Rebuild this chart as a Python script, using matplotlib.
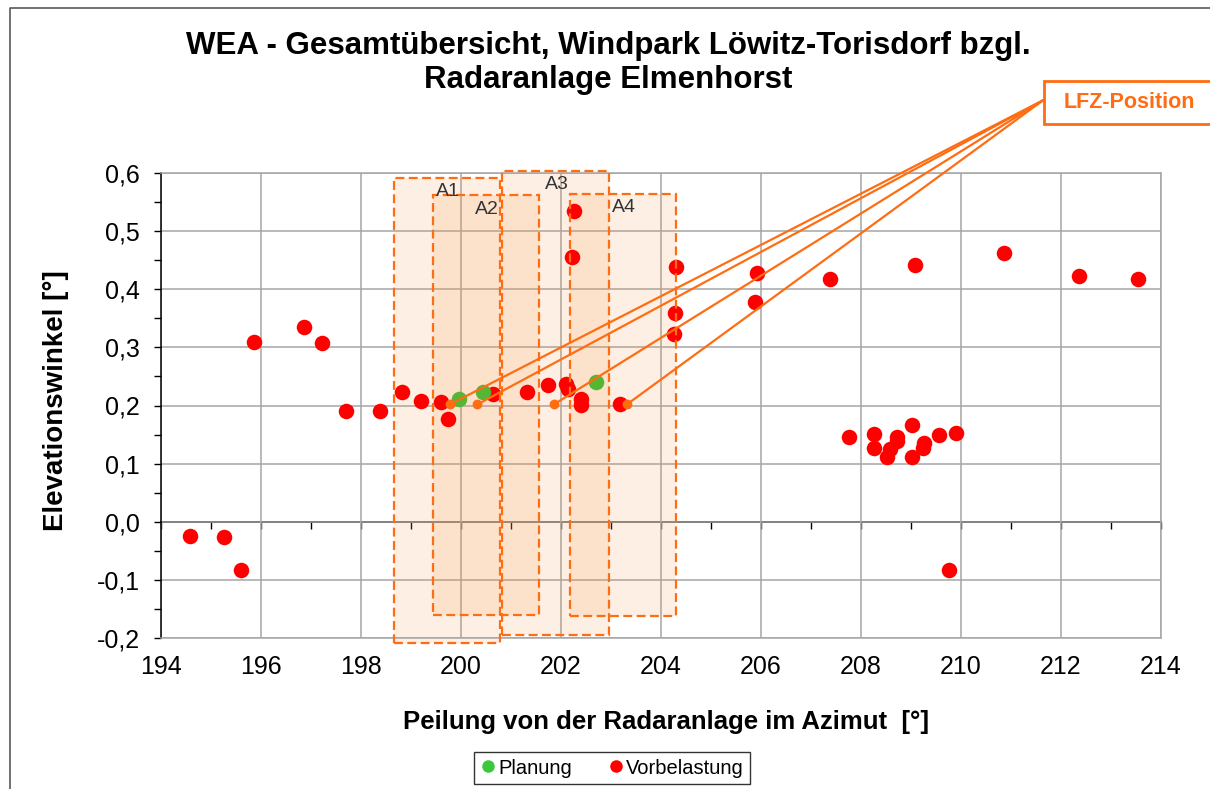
import matplotlib
matplotlib.use("Agg")
import matplotlib.pyplot as plt
from matplotlib.lines import Line2D
from matplotlib.patches import Rectangle
from matplotlib.ticker import FuncFormatter, MultipleLocator

plt.rcParams["font.family"] = ["Liberation Sans", "DejaVu Sans"]

TITLE = "WEA - Gesamtübersicht, Windpark Löwitz-Torisdorf bzgl.\nRadaranlage Elmenhorst"
X_LABEL = "Peilung von der Radaranlage im Azimut  [°]"
Y_LABEL = "Elevationswinkel [°]"

# existing turbines (Vorbelastung)
VOR_AZ = [194.59, 195.26, 195.61, 195.86, 196.87, 197.23, 197.70, 198.39,
          198.83, 199.21, 199.60, 199.74, 200.65, 201.33, 201.75, 202.10,
          202.15, 202.40, 202.40, 202.27, 202.23, 203.19, 204.30, 204.29,
          204.27, 205.92, 205.89, 207.39, 209.08, 210.87, 212.37, 213.55,
          207.76, 208.26, 208.26, 208.73, 208.73, 208.58, 208.53, 209.03,
          209.03, 209.27, 209.25, 209.57, 209.90, 209.77]
VOR_EL = [-0.025, -0.027, -0.083, 0.309, 0.335, 0.307, 0.191, 0.191,
          0.224, 0.208, 0.206, 0.177, 0.220, 0.224, 0.236, 0.237,
          0.228, 0.211, 0.201, 0.534, 0.456, 0.202, 0.439, 0.359,
          0.323, 0.428, 0.378, 0.418, 0.442, 0.463, 0.422, 0.418,
          0.146, 0.151, 0.127, 0.146, 0.139, 0.125, 0.112, 0.167,
          0.112, 0.136, 0.127, 0.149, 0.153, -0.083]

# planned turbines (Planung)
PLAN_AZ = [199.96, 200.45, 202.70]
PLAN_EL = [0.212, 0.224, 0.241]

# LFZ positions
LFZ_AZ = [199.78, 200.33, 201.86, 203.32]
LFZ_EL = [0.202, 0.202, 0.202, 0.202]
LFZ_LABEL_POS = (211.64, 0.725)

# areas A1..A4: (left, right), (bottom, top)
AREA_NAMES = ["A1", "A2", "A3", "A4"]
AREA_X = [(198.67, 200.78), (199.45, 201.57), (200.83, 202.97), (202.19, 204.31)]
AREA_Y = [(-0.208, 0.592), (-0.160, 0.562), (-0.194, 0.604), (-0.162, 0.564)]
AREA_LABEL_X = [199.74, 200.52, 201.92, 203.26]
AREA_LABEL_Y = [0.568, 0.537, 0.580, 0.540]

ORANGE = "#FF6D12"
RED = "#FF0000"
GREEN = "#55B535"


def comma_fmt(v, pos):
    return f"{v:.1f}".replace(".", ",")


fig = plt.figure(figsize=(12.1, 7.89), dpi=100)
ax = fig.add_axes([161 / 1210, 1 - 638 / 789, 1000 / 1210, 465 / 789])

ax.set_xlim(194, 214)
ax.set_ylim(-0.2, 0.6)
ax.xaxis.set_major_locator(MultipleLocator(2))
ax.yaxis.set_major_locator(MultipleLocator(0.1))
ax.yaxis.set_minor_locator(MultipleLocator(0.05))
ax.yaxis.set_major_formatter(FuncFormatter(comma_fmt))
ax.grid(True, color="#A6A6A6", linewidth=1.1, zorder=0)
ax.set_axisbelow(True)

for side in ["top", "right", "bottom"]:
    ax.spines[side].set_color("#A6A6A6")
    ax.spines[side].set_linewidth(1.1)
ax.spines["left"].set_color("black")
ax.spines["left"].set_linewidth(1.1)

ax.tick_params(axis="x", length=0, labelsize=18, pad=12)
ax.tick_params(axis="y", which="both", direction="out", length=5, width=1,
               labelsize=18, pad=10)

# x axis crossing at zero with ticks
zero_ax = ax.secondary_xaxis(0.25)
zero_ax.xaxis.set_major_locator(MultipleLocator(2))
zero_ax.xaxis.set_minor_locator(MultipleLocator(1))
zero_ax.tick_params(which="both", direction="out", length=5, width=1,
                    labelbottom=False)
zero_ax.spines["bottom"].set_linewidth(1.3)

# areas
for name, (x0, x1), (y0, y1) in zip(AREA_NAMES, AREA_X, AREA_Y):
    ax.add_patch(Rectangle((x0, y0), x1 - x0, y1 - y0, facecolor="#F79646",
                           alpha=0.15, edgecolor="none", clip_on=False,
                           zorder=1))
    ax.add_patch(Rectangle((x0, y0), x1 - x0, y1 - y0, facecolor="none",
                           edgecolor=ORANGE, linewidth=1.6,
                           linestyle=(0, (4, 2)), clip_on=False, zorder=4))
for name, lx, ly in zip(AREA_NAMES, AREA_LABEL_X, AREA_LABEL_Y):
    ax.text(lx, ly, name, fontsize=14, color="#333333", ha="center",
            va="center", zorder=5)

ax.scatter(VOR_AZ, VOR_EL, s=125, color=RED, linewidths=0, zorder=3)
ax.scatter(PLAN_AZ, PLAN_EL, s=125, color=GREEN, linewidths=0, zorder=3)

for x, y in zip(LFZ_AZ, LFZ_EL):
    ax.plot([x, LFZ_LABEL_POS[0]], [y, LFZ_LABEL_POS[1]], color=ORANGE,
            linewidth=1.6, clip_on=False, zorder=6)
ax.scatter(LFZ_AZ, LFZ_EL, s=50, color=ORANGE, linewidths=0, zorder=7)

# LFZ label box
fig.patches.append(Rectangle((1044 / 1210, 1 - 124 / 789), 200 / 1210,
                             43 / 789, transform=fig.transFigure,
                             facecolor="white", edgecolor=ORANGE,
                             linewidth=2, zorder=10))
fig.text(1129 / 1210, 1 - 103 / 789, "LFZ-Position", fontsize=15.5,
         fontweight="bold", color=ORANGE, ha="center", va="center", zorder=11)

fig.suptitle(TITLE, x=608 / 1210, y=1 - 31 / 789, fontsize=22.5,
             fontweight="bold", linespacing=1.17, va="top")
fig.text(56 / 1210, 1 - 401 / 789, Y_LABEL, rotation=90, fontsize=20,
         fontweight="bold", ha="center", va="center")
fig.text(666 / 1210, 1 - 722 / 789, X_LABEL, fontsize=18.5,
         fontweight="bold", ha="center", va="center")

# outer chart frame
fig.add_artist(Line2D([10 / 1210, 10 / 1210, 1], [0, 1 - 8 / 789, 1 - 8 / 789],
                      transform=fig.transFigure, color="#595959",
                      linewidth=1.2))

handles = [
    Line2D([], [], marker="o", linestyle="none", color="#3CC83C",
           markersize=8, label="Planung"),
    Line2D([], [], marker="o", linestyle="none", color=RED,
           markersize=8, label="Vorbelastung"),
]
leg = fig.legend(handles=handles, loc="center",
                 bbox_to_anchor=(612 / 1210, 1 - 768 / 789),
                 ncol=2, fontsize=14.5, frameon=True, fancybox=False,
                 edgecolor="black", handletextpad=0.1, columnspacing=1.8,
                 handlelength=0.8, borderpad=0.3, borderaxespad=0)
leg.get_frame().set_linewidth(1)

fig.savefig("out.png", dpi=100)
